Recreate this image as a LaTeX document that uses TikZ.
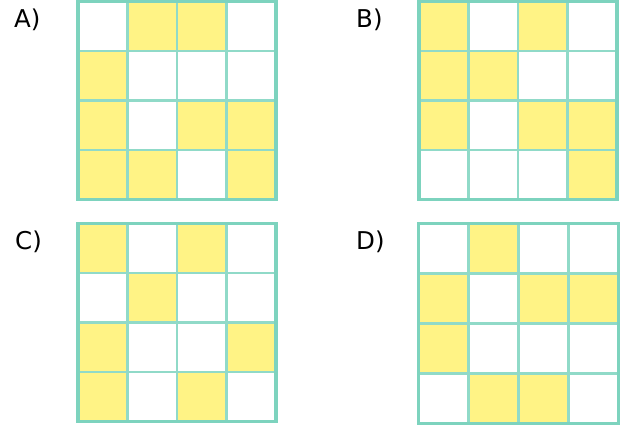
\documentclass[tikz,border=0pt]{standalone}
\usepackage{fontspec}
\setmainfont{DejaVu Sans}
\definecolor{mint}{RGB}{125,211,190}
\definecolor{cellyellow}{RGB}{255,243,133}
\newcommand\mygrid[2]{%
  \foreach \c/\r in {#2} \fill[cellyellow] (\c*#1,\r*#1) rectangle ++(#1,#1);
  \foreach \i in {1,2,3} {
    \draw[innerline] (\i*#1,0) -- (\i*#1,4*#1);
    \draw[innerline] (0,\i*#1) -- (4*#1,\i*#1);
  }
  \draw[outerline] (0,0) rectangle (4*#1,4*#1);
}
\begin{document}
\begin{tikzpicture}[x=1pt,y=-1pt,
  innerline/.style={draw=mint!85,line width=2.4pt},
  outerline/.style={draw=mint,line width=3.6pt},
  lbl/.style={anchor=base west,inner sep=0pt,font=\fontsize{24.5}{28}\selectfont}]
\useasboundingbox (0,0) rectangle (629,432);
\node[lbl] (la) at (14,27) {A)};
\node[lbl] (lb) at (356,27) {B)};
\node[lbl] (lc) at (15,249) {C)};
\node[lbl] (ld) at (356,249) {D)};
\begin{scope}[shift={(78,1.5)}]
  \mygrid{49.5}{1/0,2/0,0/1,0/2,2/2,3/2,0/3,1/3,3/3}
\end{scope}
\begin{scope}[shift={(419,1.5)}]
  \mygrid{49.5}{0/0,2/0,0/1,1/1,0/2,2/2,3/2,3/3}
\end{scope}
\begin{scope}[shift={(78,223.5)}]
  \mygrid{49.5}{0/0,2/0,1/1,0/2,3/2,0/3,2/3}
\end{scope}
\begin{scope}[shift={(418.5,223.5)}]
  \mygrid{50}{1/0,0/1,2/1,3/1,0/2,1/3,2/3}
\end{scope}
\end{tikzpicture}
\end{document}
